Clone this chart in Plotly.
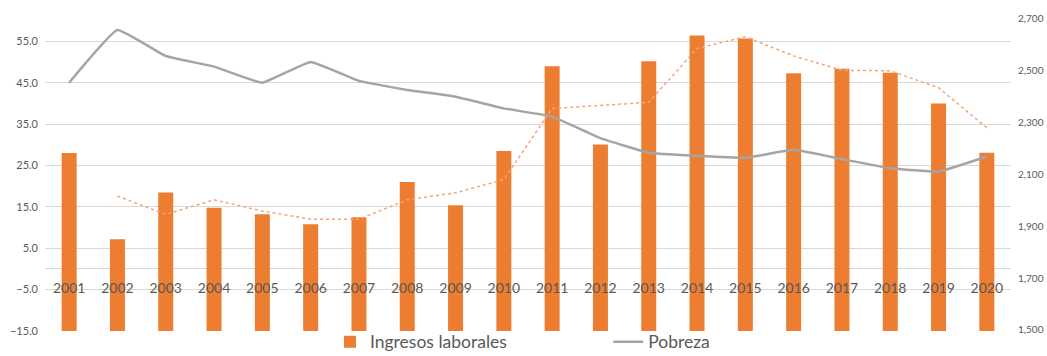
import plotly.graph_objects as go

years = [str(y) for y in range(2001, 2021)]
ingresos = [28.0, 7.2, 18.5, 14.8, 13.2, 10.8, 12.5, 21.0, 15.4, 28.5,
            49.0, 30.1, 50.2, 56.4, 55.7, 47.3, 48.4, 47.4, 40.0, 28.1]
pobreza = [2454, 2657, 2557, 2516, 2454, 2534, 2461, 2426, 2400, 2355,
           2323, 2240, 2184, 2172, 2164, 2195, 2159, 2124, 2111, 2169]
# dotted trend line (starts in 2002)
trend_years = years[1:]
trend = [17.6, 13.2, 16.7, 14.0, 12.0, 12.0, 16.7, 18.4, 21.6, 38.8,
         39.5, 40.3, 53.3, 56.1, 51.5, 48.0, 47.9, 43.8, 34.1]
left_ticks = [-15, -5, 5, 15, 25, 35, 45, 55]
right_ticks = [1500, 1700, 1900, 2100, 2300, 2500, 2700]

BASE = -15
LABEL_Y = -5
FONT = "Lato"
GREY_TXT = "#595959"

fig = go.Figure()

fig.add_trace(go.Bar(
    x=years, y=[v - BASE for v in ingresos], base=BASE,
    marker=dict(color="#ED7D31", line=dict(width=0)),
    name="Ingresos laborales", legend="legend", yaxis="y"))

fig.add_trace(go.Scatter(
    x=trend_years, y=trend, mode="lines",
    line=dict(color="#F4A47A", width=1.5, dash="dot"),
    showlegend=False, hoverinfo="skip", yaxis="y"))

fig.add_trace(go.Scatter(
    x=years, y=pobreza, mode="lines",
    line=dict(color="#A5A5A5", width=2.5, shape="spline", smoothing=0.3),
    name="Pobreza", legend="legend2", yaxis="y2"))

fig.add_trace(go.Scatter(
    x=years, y=[LABEL_Y] * len(years), mode="text", text=years,
    textposition="middle center",
    textfont=dict(family=FONT, size=14, color=GREY_TXT),
    showlegend=False, hoverinfo="skip", cliponaxis=False, yaxis="y"))

fig.update_layout(
    width=1047, height=356,
    margin=dict(l=45, r=36, t=0, b=25, autoexpand=False),
    paper_bgcolor="white", plot_bgcolor="white",
    bargap=0.69,
    font=dict(family=FONT, color=GREY_TXT),
    xaxis=dict(type="category", categoryorder="array", categoryarray=years,
               showticklabels=False, showgrid=False,
               showline=False, ticks="", zeroline=False,
               range=[-0.5, len(years) - 0.5]),
    yaxis=dict(range=[-15, 65], tickvals=left_ticks, tickformat=".1f",
               showgrid=True, gridcolor="#D9D9D9", gridwidth=1,
               zeroline=True, zerolinecolor="#D9D9D9", zerolinewidth=1,
               tickfont=dict(family=FONT, size=11, color=GREY_TXT),
               ticks="", showline=False, ticklabelstandoff=6),
    yaxis2=dict(range=[1496, 2773], tickvals=right_ticks, tickformat=",",
                overlaying="y", side="right", showgrid=False, zeroline=False,
                tickfont=dict(family=FONT, size=10, color=GREY_TXT),
                ticks="", showline=False, ticklabelstandoff=6),
    legend=dict(orientation="h", x=0.295, xanchor="left",
                yref="container", y=0.04, yanchor="middle",
                font=dict(family=FONT, size=17.5, color=GREY_TXT),
                bgcolor="rgba(0,0,0,0)", itemwidth=30),
    legend2=dict(orientation="h", x=0.583, xanchor="left",
                 yref="container", y=0.04, yanchor="middle",
                 font=dict(family=FONT, size=17.5, color=GREY_TXT),
                 bgcolor="rgba(0,0,0,0)", itemwidth=30),
)

fig.write_html("out.html")
